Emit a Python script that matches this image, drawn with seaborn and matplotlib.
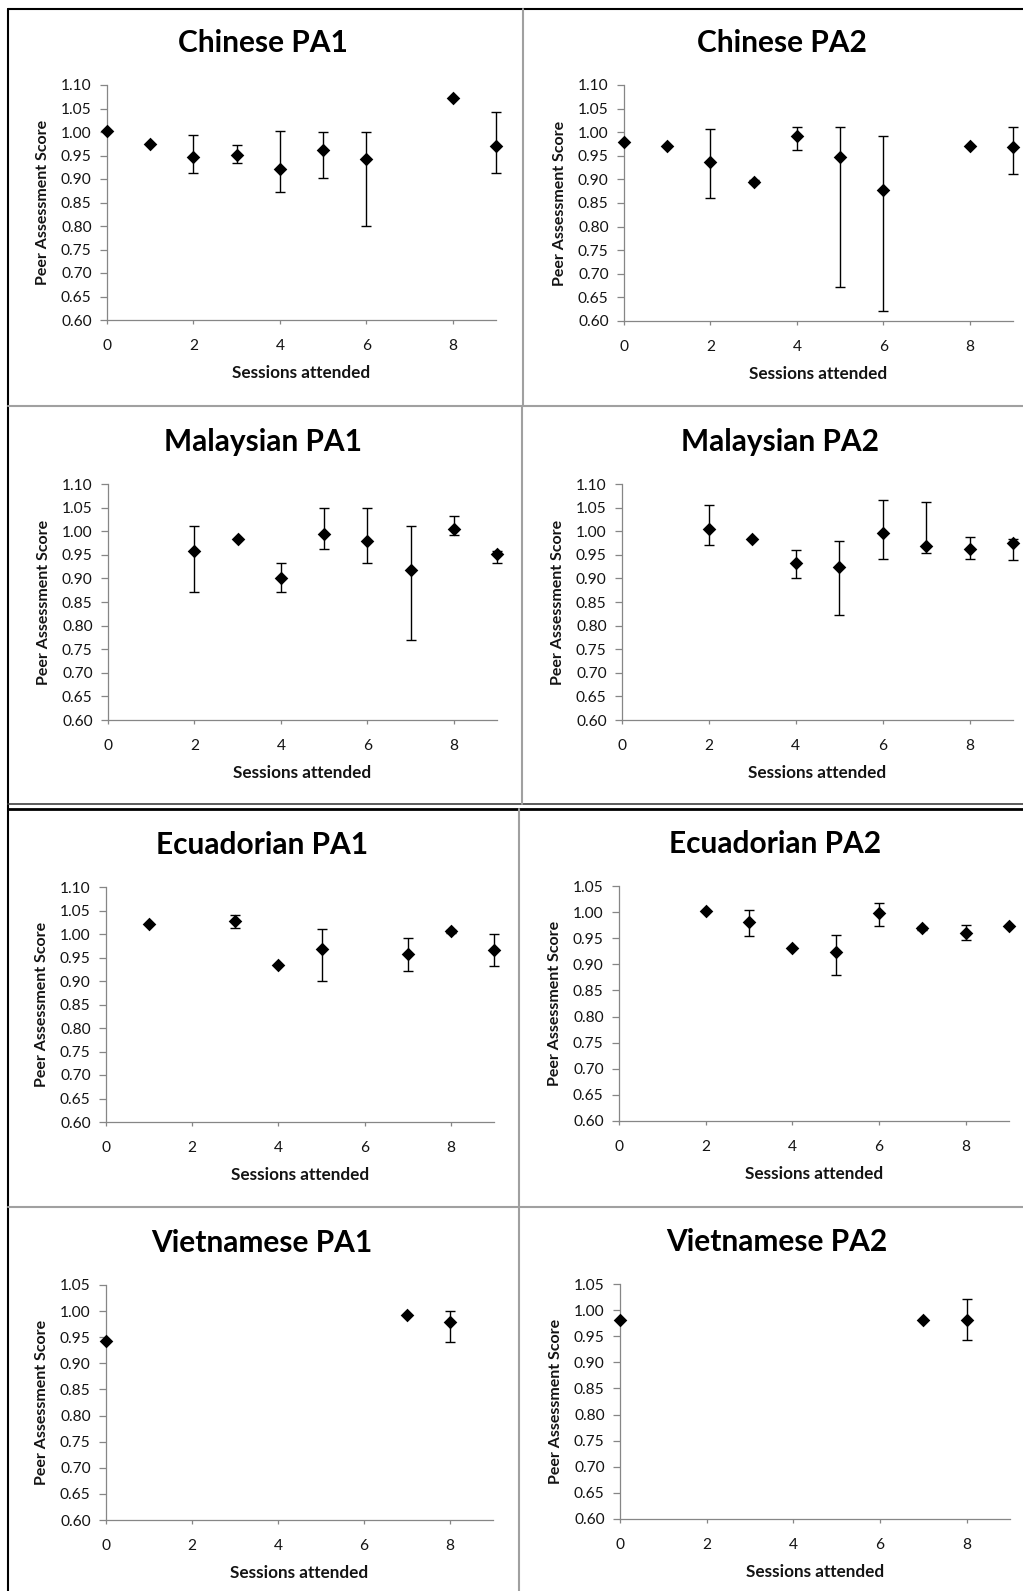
import matplotlib
matplotlib.use("Agg")
import matplotlib.pyplot as plt
import seaborn as sns
import numpy as np
from matplotlib.lines import Line2D

# data: mean score plus low/high ends of each bar
cn1_sessions = [0, 1, 2, 3, 4, 5, 6, 8, 9]
cn1_mean = [1.003, 0.974, 0.947, 0.952, 0.921, 0.962, 0.942, 1.073, 0.970]
cn1_low = [1.003, 0.974, 0.913, 0.935, 0.872, 0.902, 0.801, 1.073, 0.913]
cn1_high = [1.003, 0.974, 0.993, 0.972, 1.002, 1.001, 1.001, 1.073, 1.043]

cn2_sessions = [0, 1, 2, 3, 4, 5, 6, 8, 9]
cn2_mean = [0.980, 0.971, 0.936, 0.895, 0.992, 0.948, 0.877, 0.971, 0.968]
cn2_low = [0.980, 0.971, 0.861, 0.892, 0.962, 0.671, 0.621, 0.971, 0.912]
cn2_high = [0.980, 0.971, 1.006, 0.898, 1.011, 1.011, 0.991, 0.971, 1.011]

my1_sessions = [2, 3, 4, 5, 6, 7, 8, 9]
my1_mean = [0.959, 0.983, 0.901, 0.995, 0.980, 0.918, 1.004, 0.951]
my1_low = [0.871, 0.983, 0.871, 0.962, 0.932, 0.770, 0.991, 0.932]
my1_high = [1.012, 0.983, 0.932, 1.049, 1.049, 1.012, 1.033, 0.958]

my2_sessions = [2, 3, 4, 5, 6, 7, 8, 9]
my2_mean = [1.004, 0.983, 0.933, 0.925, 0.997, 0.968, 0.963, 0.975]
my2_low = [0.971, 0.983, 0.900, 0.823, 0.942, 0.953, 0.942, 0.939]
my2_high = [1.056, 0.983, 0.961, 0.979, 1.067, 1.061, 0.988, 0.983]

ec1_sessions = [1, 3, 4, 5, 7, 8, 9]
ec1_mean = [1.021, 1.028, 0.933, 0.968, 0.957, 1.006, 0.965]
ec1_low = [1.021, 1.012, 0.933, 0.900, 0.921, 1.003, 0.932]
ec1_high = [1.021, 1.041, 0.933, 1.011, 0.991, 1.009, 1.000]

ec2_sessions = [2, 3, 4, 5, 6, 7, 8, 9]
ec2_mean = [1.003, 0.982, 0.931, 0.923, 0.998, 0.969, 0.960, 0.974]
ec2_low = [1.003, 0.955, 0.931, 0.880, 0.973, 0.966, 0.946, 0.974]
ec2_high = [1.003, 1.005, 0.931, 0.957, 1.017, 0.972, 0.976, 0.974]

vn1_sessions = [0, 7, 8]
vn1_mean = [0.942, 0.992, 0.979]
vn1_low = [0.942, 0.992, 0.941]
vn1_high = [0.942, 0.992, 1.000]

vn2_sessions = [0, 7, 8]
vn2_mean = [0.982, 0.982, 0.982]
vn2_low = [0.982, 0.982, 0.942]
vn2_high = [0.982, 0.982, 1.021]

titles = ["Chinese PA1", "Chinese PA2", "Malaysian PA1", "Malaysian PA2",
          "Ecuadorian PA1", "Ecuadorian PA2", "Vietnamese PA1", "Vietnamese PA2"]
series = [
    (cn1_sessions, cn1_mean, cn1_low, cn1_high),
    (cn2_sessions, cn2_mean, cn2_low, cn2_high),
    (my1_sessions, my1_mean, my1_low, my1_high),
    (my2_sessions, my2_mean, my2_low, my2_high),
    (ec1_sessions, ec1_mean, ec1_low, ec1_high),
    (ec2_sessions, ec2_mean, ec2_low, ec2_high),
    (vn1_sessions, vn1_mean, vn1_low, vn1_high),
    (vn2_sessions, vn2_mean, vn2_low, vn2_high),
]
y_tops = [1.10, 1.10, 1.10, 1.10, 1.10, 1.05, 1.05, 1.05]

sns.set_style("white")
plt.rcParams["font.family"] = ["Lato", "DejaVu Sans"]

W, H = 1023, 1591
fig = plt.figure(figsize=(W / 100, H / 100), dpi=100)

# axes boxes in pixels: left, top, right, bottom
boxes = [
    (107, 85, 496, 320), (624, 85, 1013, 321),
    (108, 484, 497, 720), (622, 484, 1013, 720),
    (106, 887, 494, 1122), (619, 886, 1009, 1121),
    (106, 1285, 493, 1520), (620, 1284, 1010, 1519),
]
title_pos = [(263, 43), (782, 43), (263, 442), (780, 442),
             (262, 845), (775, 844), (262, 1243), (777, 1242)]

axis_grey = "#868686"
text_col = "#141414"

for i, (title, (xs, m, lo, hi)) in enumerate(zip(titles, series)):
    l, t, r, b = boxes[i]
    ax = fig.add_axes([l / W, 1 - b / H, (r - l) / W, (b - t) / H])
    m = np.array(m)
    err = [m - np.array(lo), np.array(hi) - m]
    ax.errorbar(xs, m, yerr=err, fmt="none", ecolor="black", elinewidth=1.0,
                capsize=3.8, capthick=1.0, clip_on=False, zorder=2)
    sns.scatterplot(x=xs, y=m, marker="D", s=48, color="black",
                    edgecolor="black", linewidth=0, ax=ax, clip_on=False, zorder=3)

    ax.set_xlim(0, 9)
    ax.set_ylim(0.60, y_tops[i])
    ax.set_xticks([0, 2, 4, 6, 8])
    ax.set_yticks(np.round(np.arange(0.60, y_tops[i] + 0.001, 0.05), 2))
    ax.yaxis.set_major_formatter(matplotlib.ticker.FormatStrFormatter("%.2f"))
    for side in ["top", "right"]:
        ax.spines[side].set_visible(False)
    for side in ["left", "bottom"]:
        ax.spines[side].set_color(axis_grey)
        ax.spines[side].set_linewidth(0.9)
    ax.tick_params(axis="y", direction="out", length=5, width=0.9, color=axis_grey,
                   pad=6, labelsize=11.2, labelcolor=text_col, left=True)
    ax.tick_params(axis="x", direction="out", length=3, width=0.9, color=axis_grey,
                   pad=11, labelsize=11.2, labelcolor=text_col, bottom=True)

    ax.set_xlabel("Sessions attended", fontsize=12.3, fontweight="bold", color=text_col)
    ax.set_ylabel("Peer Assessment Score", fontsize=11.5, fontweight="bold", color=text_col)
    ax.xaxis.set_label_coords(0.5, -53 / (b - t))
    ax.xaxis.label.set_va("center")
    ax.yaxis.set_label_coords(-64 / (r - l), 0.5)
    ax.yaxis.label.set_va("center")

    tx, ty = title_pos[i]
    fig.text(tx / W, 1 - ty / H, title, fontsize=21.5, fontweight="bold",
             ha="center", va="center", color="black")


def hline(y, x0, x1, color, lw):
    fig.add_artist(Line2D([x0 / W, x1 / W], [1 - y / H, 1 - y / H], color=color, lw=lw))


def vline(x, y0, y1, color, lw):
    fig.add_artist(Line2D([x / W, x / W], [1 - y0 / H, 1 - y1 / H], color=color, lw=lw))


# panel frames, as in the pasted screenshot
hline(9, 8, W, "black", 1.5)
vline(8, 9, H, "black", 1.5)
hline(406, 8, W, "#a0a0a0", 1.5)
hline(804, 8, W, "#404040", 1.2)
hline(809, 8, W, "black", 2.0)
hline(1207, 8, W, "#a0a0a0", 1.5)
vline(523, 9, 406, "#a0a0a0", 1.5)
vline(522, 406, 804, "#a0a0a0", 1.5)
vline(519, 809, H, "#a0a0a0", 1.5)

fig.savefig("out.png", dpi=100)
